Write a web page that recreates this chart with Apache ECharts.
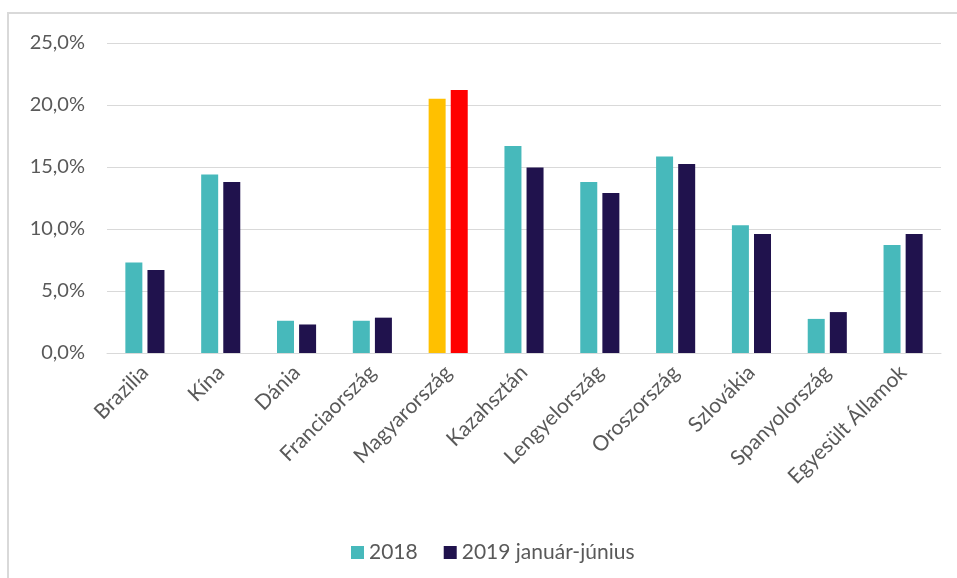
<!DOCTYPE html>
<html>
<head>
<meta charset="utf-8">
<script src="https://cdn.jsdelivr.net/npm/echarts@6/dist/echarts.min.js"></script>
<style>
  html, body { margin: 0; padding: 0; background: #fff; }
  #chart { width: 957px; height: 578px; }
</style>
</head>
<body>
<div id="chart"></div>
<script>
var countries = ["Brazilia", "Kína", "Dánia", "Franciaország", "Magyarország", "Kazahsztán",
    "Lengyelország", "Oroszország", "Szlovákia", "Spanyolország", "Egyesült Államok"];
var seriesNames = ["2018", "2019 január-június"];
var values2018 = [7.3, 14.4, 2.6, 2.6, 20.5, 16.7, 13.8, 15.85, 10.3, 2.75, 8.7];
var values2019 = [6.7, 13.8, 2.3, 2.85, 21.2, 14.95, 12.9, 15.25, 9.6, 3.3, 9.6];
var highlightIndex = 4; // Magyarország
var colors2018 = ["#47B9BB", "#FFC000"];
var colors2019 = ["#20124D", "#FF0000"];

var chart = echarts.init(document.getElementById('chart'));

function buildData(vals, cols) {
    return vals.map(function (v, i) {
        if (i == highlightIndex) {
            return { value: v, itemStyle: { color: cols[1] } };
        }
        return v;
    });
}

function pct(v) {
    return v.toFixed(1).replace('.', ',') + '%';
}

var labelFont = "Lato, 'Open Sans', sans-serif";

var option = {
    animation: false,
    backgroundColor: '#fff',
    graphic: [{
        type: 'rect',
        shape: { x: 8, y: 13, width: 1000, height: 600 },
        style: { fill: 'none', stroke: '#d9d9d9', lineWidth: 2 },
        silent: true
    }],
    grid: {
        left: 107,
        right: 16,
        top: 43,
        bottom: 225
    },
    legend: {
        left: 346,
        top: 537,
        itemWidth: 13,
        itemHeight: 13,
        itemGap: 26,
        icon: 'rect',
        textStyle: { color: '#595959', fontSize: 21, fontFamily: labelFont },
        data: seriesNames
    },
    xAxis: {
        type: 'category',
        data: countries,
        axisLine: { lineStyle: { color: '#d9d9d9', width: 1 } },
        axisTick: { show: false },
        axisLabel: {
            rotate: 45,
            interval: 0,
            margin: 16,
            color: '#595959',
            fontSize: 21,
            fontFamily: labelFont
        }
    },
    yAxis: {
        type: 'value',
        min: 0,
        max: 25,
        interval: 5,
        axisLine: { show: false },
        axisTick: { show: false },
        splitLine: { lineStyle: { color: '#d9d9d9', width: 1 } },
        axisLabel: {
            margin: 22,
            color: '#595959',
            fontSize: 20,
            fontFamily: labelFont,
            formatter: pct
        }
    },
    series: [
        {
            name: seriesNames[0],
            type: 'bar',
            barWidth: 17,
            barGap: '30%',
            itemStyle: { color: colors2018[0] },
            data: buildData(values2018, colors2018)
        },
        {
            name: seriesNames[1],
            type: 'bar',
            barWidth: 17,
            barGap: '30%',
            itemStyle: { color: colors2019[0] },
            data: buildData(values2019, colors2019)
        }
    ]
};
chart.setOption(option);
</script>
</body>
</html>
